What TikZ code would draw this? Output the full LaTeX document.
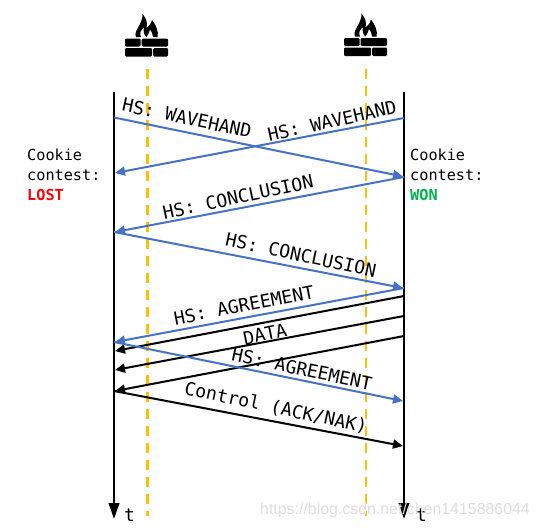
\documentclass[tikz,border=0pt]{standalone}
\usepackage{fontspec}
\setmainfont{DejaVu Sans Mono}
\newfontfamily\wmfont{Liberation Sans}
\usetikzlibrary{arrows.meta}
\definecolor{fwblue}{HTML}{4472C4}
\definecolor{fwgold}{HTML}{FFC000}
\definecolor{fwgreen}{HTML}{00B050}
\tikzset{
  x=1pt,y=-1pt,
  timeline/.style={line width=2.4pt,black,-{Triangle[length=16pt,width=10.5pt]}},
  guard/.style={line width=2.4pt,fwgold,dash pattern=on 10pt off 7pt},
  bluemsg/.style={line width=2pt,fwblue,-{Triangle[length=10pt,width=9pt]}},
  blackmsg/.style={line width=2pt,black,-{Triangle[length=10pt,width=9pt]}},
  msg/.style={font=\fontsize{18.2}{20}\selectfont,inner sep=0pt},
  side/.style={font=\fontsize{15.2}{20}\selectfont,inner sep=0pt,anchor=west},
  tlabel/.style={font=\fontsize{18}{20}\selectfont,inner sep=0pt,anchor=west},
  brick/.style={fill=black,rounded corners=1.2pt},
  pics/firewall/.style={code={
    \fill[brick] (125,38.5) rectangle (140.5,46.5);
    \fill[brick] (141.7,38.5) rectangle (168,46.5);
    \fill[brick] (125,48) rectangle (152,56.5);
    \fill[brick] (153.2,48) rectangle (168,56.5);
    \fill (136,37) .. controls (133,31) and (143,24) .. (142.5,14)
      .. controls (146,18) and (148,23) .. (146.5,28)
      .. controls (149,26) and (151,24) .. (152,20)
      .. controls (156,25) and (159,32) .. (157.5,37)
      -- (153,37) .. controls (153.5,34) and (151,31) .. (150,29.5)
      .. controls (149.5,33) and (147.5,35) .. (146.5,37)
      .. controls (144,35) and (143,31) .. (144,27.5)
      .. controls (141,30) and (139,33) .. (141,37) -- cycle;
  }}
}
\begin{document}
\begin{tikzpicture}
\useasboundingbox (0,0) rectangle (539,528);
\pic {firewall};
\pic[shift={(219,-0.5)}] {firewall};

\coordinate (gl0) at (147.5,69); \coordinate (gl1) at (147.5,516);
\coordinate (gr0) at (366,69); \coordinate (gr1) at (366,516);
\draw[guard] (gl0) -- (gl1);
\draw[guard] (gr0) -- (gr1);

\coordinate (lt) at (114,92); \coordinate (lb) at (114,519);
\coordinate (rt) at (404,92); \coordinate (rb) at (404,519);
\draw[timeline] (lt) -- (lb);
\draw[timeline] (rt) -- (rb);

\coordinate (a1) at (114,117.5); \coordinate (b1) at (403,176.5);
\coordinate (b2) at (404,118); \coordinate (a2) at (115,173);
\coordinate (b3) at (404,177); \coordinate (a3) at (115,232);
\coordinate (a4) at (114,232); \coordinate (b4) at (403,288);
\coordinate (b5) at (404,288); \coordinate (a5) at (115,342);
\coordinate (a6) at (114,342); \coordinate (b6) at (403,401);
\coordinate (b7) at (404,296); \coordinate (a7) at (115,351);
\coordinate (b8) at (404,316); \coordinate (a8) at (115,370);
\coordinate (b9) at (404,336); \coordinate (a9) at (115,391);
\coordinate (a10) at (114,391); \coordinate (b10) at (403,446);

\draw[blackmsg] (b7) -- (a7);
\draw[blackmsg] (b8) -- (a8);
\draw[blackmsg] (b9) -- (a9);
\draw[blackmsg] (a10) -- (b10);
\draw[bluemsg] (a1) -- (b1);
\draw[bluemsg] (b2) -- (a2);
\draw[bluemsg] (b3) -- (a3);
\draw[bluemsg] (a4) -- (b4);
\draw[bluemsg] (b5) -- (a5);
\draw[bluemsg] (a6) -- (b6);

\node[msg,rotate=-12] (m1) at (187,118) {HS: WAVEHAND};
\node[msg,rotate=12.5] (m2) at (332,121) {HS: WAVEHAND};
\node[msg,rotate=12] (m3) at (238,197) {HS: CONCLUSION};
\node[msg,rotate=-12] (m4) at (301,255) {HS: CONCLUSION};
\node[msg,rotate=11] (m5) at (244,305) {HS: AGREEMENT};
\node[msg,rotate=12] (m6) at (265,334) {DATA};
\node[msg,rotate=-12] (m7) at (302,369) {HS: AGREEMENT};
\node[msg,rotate=-12] (m8) at (276,408) {Control (ACK/NAK)};

\node[side] (c1) at (27,155) {Cookie};
\node[side] (c2) at (27,175) {contest:};
\node[side,text=red,font=\fontsize{15.2}{20}\selectfont\bfseries] (c3) at (27,195) {LOST};
\node[side] (d1) at (410,155) {Cookie};
\node[side] (d2) at (410,175) {contest:};
\node[side,text=fwgreen,font=\fontsize{15.2}{20}\selectfont\bfseries] (d3) at (410,195) {WON};

\node[tlabel] (t1) at (124,515) {t};
\node[tlabel] (t2) at (416,515) {t};

\node[inner sep=0pt,anchor=west,text=black!13,font=\wmfont\fontsize{15.9}{20}\selectfont] (wm) at (260,510) {https://blog.csdn.net/chen1415886044};
\end{tikzpicture}
\end{document}
